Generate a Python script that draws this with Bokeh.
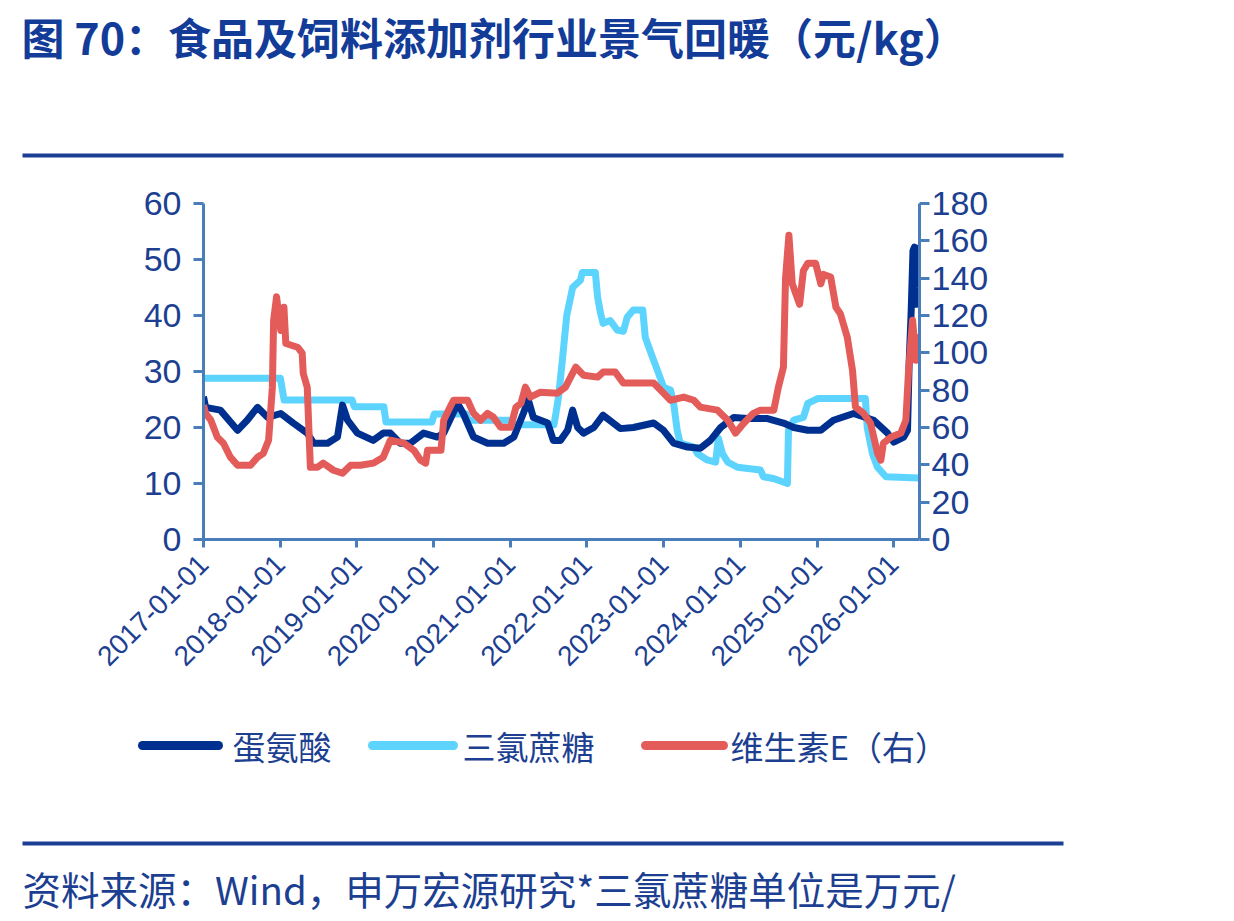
import pandas as pd
from math import pi
from bokeh.plotting import figure
from bokeh.models import Range1d, LinearAxis, FixedTicker, DatetimeTickFormatter
from bokeh.core.properties import value
from bokeh.embed import file_html
from bokeh.resources import INLINE

# ---------------- texts ----------------
TITLE = "图 70：食品及饲料添加剂行业景气回暖（元/kg）"
SOURCE = "资料来源：Wind，申万宏源研究*三氯蔗糖单位是万元/"
SERIES_NAMES = ["蛋氨酸", "三氯蔗糖", "维生素E（右）"]

LEFT_TICKS = [0, 10, 20, 30, 40, 50, 60]
RIGHT_TICKS = [0, 20, 40, 60, 80, 100, 120, 140, 160, 180]
YEAR_TICKS = ["2017-01-01", "2018-01-01", "2019-01-01", "2020-01-01", "2021-01-01",
              "2022-01-01", "2023-01-01", "2024-01-01", "2025-01-01", "2026-01-01"]
X_START, X_END = "2017-01-01", "2026-05-04"

# ---------------- data ----------------
# 蛋氨酸 (元/kg, left axis)
met_dates = ["2017-01-01", "2017-01-11", "2017-03-22", "2017-06-12", "2017-07-28", "2017-09-15",
             "2017-11-03", "2018-01-04", "2018-03-04", "2018-05-10", "2018-06-10", "2018-08-15",
             "2018-10-01", "2018-10-25", "2018-11-18", "2019-01-04", "2019-03-20", "2019-05-07",
             "2019-06-10", "2019-07-27", "2019-09-13", "2019-11-15", "2020-01-20", "2020-02-19",
             "2020-04-25", "2020-05-22", "2020-07-10", "2020-09-15", "2020-12-01", "2021-01-18",
             "2021-03-04", "2021-03-28", "2021-04-21", "2021-06-28", "2021-07-25", "2021-08-28",
             "2021-10-01", "2021-10-25", "2021-11-18", "2021-12-16", "2022-02-03", "2022-03-19",
             "2022-05-06", "2022-06-09", "2022-08-10", "2022-11-15", "2023-01-01", "2023-02-18",
             "2023-04-25", "2023-06-25", "2023-08-12", "2023-09-30", "2023-12-01", "2024-02-06",
             "2024-05-10", "2024-07-25", "2024-09-12", "2024-11-18", "2025-01-19", "2025-03-20",
             "2025-06-24", "2025-09-28", "2025-12-03", "2026-01-01", "2026-02-18", "2026-03-08",
             "2026-03-16", "2026-03-25", "2026-04-03", "2026-04-10", "2026-04-17", "2026-04-24",
             "2026-05-01"]
met_vals = [25.5, 23.6, 23.1, 19.5, 21.3, 23.6,
            21.8, 22.5, 20.8, 19.0, 17.2, 17.2,
            18.3, 24.0, 21.3, 19.0, 17.7, 19.0,
            19.0, 17.2, 17.2, 19.0, 18.3, 19.0,
            24.3, 22.5, 18.3, 17.2, 17.2, 18.3,
            22.5, 24.9, 21.8, 20.8, 17.7, 17.7,
            19.5, 23.1, 20.0, 19.0, 20.0, 22.2,
            20.8, 19.8, 20.0, 20.8, 19.5, 17.2,
            16.5, 16.3, 17.7, 20.0, 21.8, 21.6,
            21.6, 20.8, 20.0, 19.5, 19.5, 21.3,
            22.5, 21.3, 19.0, 17.4, 18.3, 19.5,
            32.0, 40.4, 51.6, 52.2, 42.0, 52.0,
            45.0]

# 三氯蔗糖 (万元/kg, left axis)
suc_dates = ["2017-01-01", "2018-01-02", "2018-01-20", "2018-12-10", "2018-12-20", "2019-05-10",
             "2019-05-20", "2019-12-25", "2020-01-05", "2020-06-05", "2020-06-15", "2021-01-01",
             "2021-01-10", "2021-07-28", "2021-08-04", "2021-08-19", "2021-09-06", "2021-09-27",
             "2021-10-25", "2021-12-01", "2021-12-10", "2022-02-10", "2022-02-21", "2022-03-07",
             "2022-03-19", "2022-04-22", "2022-05-25", "2022-06-24", "2022-07-12", "2022-08-10",
             "2022-09-24", "2022-10-06", "2022-11-09", "2022-12-03", "2023-01-01", "2023-02-03",
             "2023-02-18", "2023-03-07", "2023-03-21", "2023-05-25", "2023-06-12", "2023-07-28",
             "2023-09-06", "2023-09-19", "2023-10-09", "2023-11-03", "2023-12-19", "2024-04-06",
             "2024-04-21", "2024-06-07", "2024-08-13", "2024-08-18", "2024-09-12", "2024-10-28",
             "2024-11-18", "2025-01-06", "2025-08-19", "2025-08-28", "2025-09-22", "2025-10-16",
             "2025-11-25", "2026-05-01"]
suc_vals = [28.8, 28.8, 24.9, 24.9, 23.7, 23.7,
            21.0, 21.0, 22.4, 22.4, 21.3, 21.3,
            20.5, 20.5, 22.0, 25.5, 32.0, 40.0,
            45.0, 46.3, 47.7, 47.7, 43.3, 40.4,
            38.6, 39.1, 37.4, 37.2, 39.7, 41.0,
            41.0, 36.1, 32.6, 30.2, 27.2, 26.7,
            24.3, 19.5, 17.2, 16.5, 15.3, 14.2,
            13.8, 18.1, 15.3, 13.8, 12.9, 12.4,
            11.2, 10.9, 10.0, 19.5, 21.3, 21.8,
            24.3, 25.2, 25.2, 20.0, 15.3, 12.9,
            11.2, 11.0]

# 维生素E (元/kg, right axis)
vite_dates = ["2017-01-01", "2017-01-11", "2017-02-05", "2017-03-08", "2017-04-06", "2017-05-09",
              "2017-06-12", "2017-08-13", "2017-09-16", "2017-10-13", "2017-11-07", "2017-11-25",
              "2017-12-01", "2017-12-15", "2018-01-04", "2018-01-19", "2018-01-28", "2018-03-25",
              "2018-04-16", "2018-04-21", "2018-05-10", "2018-05-25", "2018-06-28", "2018-07-25",
              "2018-09-12", "2018-10-25", "2018-12-03", "2019-01-19", "2019-03-20", "2019-05-07",
              "2019-06-10", "2019-08-13", "2019-09-30", "2019-11-01", "2019-11-25", "2019-12-04",
              "2020-02-06", "2020-02-19", "2020-03-13", "2020-04-06", "2020-06-12", "2020-07-10",
              "2020-08-13", "2020-09-15", "2020-10-13", "2020-11-16", "2021-01-03", "2021-01-28",
              "2021-02-21", "2021-03-14", "2021-04-07", "2021-05-25", "2021-08-13", "2021-09-21",
              "2021-11-09", "2021-12-16", "2022-02-21", "2022-03-19", "2022-05-16", "2022-06-24",
              "2022-11-15", "2023-01-01", "2023-02-03", "2023-04-07", "2023-05-25", "2023-06-25",
              "2023-09-15", "2023-11-03", "2023-12-10", "2024-01-18", "2024-03-04", "2024-04-06",
              "2024-06-09", "2024-07-01", "2024-07-25", "2024-08-04", "2024-08-20", "2024-09-05",
              "2024-10-10", "2024-10-28", "2024-11-18", "2024-12-25", "2025-01-19", "2025-02-01",
              "2025-03-07", "2025-04-01", "2025-04-22", "2025-05-25", "2025-06-19", "2025-07-03",
              "2025-08-10", "2025-09-13", "2025-10-16", "2025-11-01", "2025-11-13", "2025-12-18",
              "2026-02-04", "2026-02-28", "2026-03-13", "2026-04-01", "2026-04-17", "2026-05-01"]
vite_vals = [72.0, 67.6, 63.9, 54.8, 51.6, 44.1,
             39.8, 39.8, 44.1, 46.2, 53.2, 81.6,
             117.5, 130.0, 112.0, 124.4, 105.0, 103.0,
             99.8, 89.0, 81.6, 38.7, 38.7, 40.9,
             37.1, 35.5, 39.8, 39.8, 40.9, 44.1,
             53.2, 51.6, 47.8, 42.5, 40.9, 47.8,
             47.8, 63.9, 69.3, 74.6, 74.6, 67.6,
             63.9, 67.6, 65.5, 60.1, 60.1, 70.9,
             73.0, 81.6, 76.3, 78.9, 78.4, 81.6,
             92.3, 88.0, 87.0, 89.7, 89.7, 83.8,
             83.8, 78.4, 74.6, 76.3, 74.6, 70.9,
             69.3, 63.9, 57.0, 62.3, 67.6, 69.3,
             69.3, 81.6, 92.3, 140.0, 163.0, 137.0,
             126.0, 144.0, 148.0, 148.0, 137.0, 142.0,
             140.6, 124.4, 121.0, 108.4, 90.5, 71.0,
             67.6, 62.3, 46.2, 42.5, 51.6, 54.8,
             57.0, 63.9, 90.7, 117.5, 96.0, 110.0]

# ---------------- styles ----------------
C_MET = "#00308F"
C_SUC = "#5DD4FE"
C_VITE = "#E45C5A"
C_AXIS = "#4A7EBB"
C_TEXT = "#1D3F91"
C_TITLE = "#123C98"
C_RULE = "#1A3F94"
CJK = "Noto Sans CJK SC"
LATIN = "Liberation Sans"

W = 1234
TOP_H, MAIN_H, BOT_H = 175, 525, 221


def bare(h):
    f = figure(width=W, height=h, x_range=Range1d(0, W), y_range=Range1d(h, 0),
               x_axis_location=None, y_axis_location=None, toolbar_location=None,
               output_backend="svg", min_border=0)
    f.outline_line_color = None
    f.grid.visible = False
    f.background_fill_color = "white"
    f.border_fill_color = "white"
    return f


# ---------- top: title + rule ----------
top = bare(TOP_H)
top.text(x=[21], y=[35], text=[TITLE], text_font=value(CJK), text_font_style="bold",
         text_font_size="43px", text_color=C_TITLE, text_baseline="middle", text_align="left")
top.line(x=[22, 1063], y=[155, 155], line_width=4, line_color=C_RULE)

# ---------- main chart ----------
p = figure(width=W, height=MAIN_H, x_axis_type="datetime",
           x_range=Range1d(pd.Timestamp(X_START), pd.Timestamp(X_END)),
           y_range=Range1d(0, 60), toolbar_location=None, output_backend="svg",
           min_border_left=203, min_border_right=315, min_border_top=28, min_border_bottom=161)
p.extra_y_ranges = {"right": Range1d(0, 180)}
p.outline_line_color = None
p.xgrid.visible = False
p.ygrid.visible = False

suc_x = pd.to_datetime(suc_dates)
met_x = pd.to_datetime(met_dates)
vite_x = pd.to_datetime(vite_dates)

p.line(suc_x, suc_vals, line_color=C_SUC, line_width=7, line_join="round")
p.line(met_x, met_vals, line_color=C_MET, line_width=7, line_join="round")
p.line(vite_x, vite_vals, line_color=C_VITE, line_width=7, line_join="round",
       y_range_name="right")

right = LinearAxis(y_range_name="right")
p.add_layout(right, "right")

p.xaxis.ticker = FixedTicker(ticks=[pd.Timestamp(d).value // 10**6 for d in YEAR_TICKS])
fmt = "%Y-%m-%d"
p.xaxis.formatter = DatetimeTickFormatter(years=fmt, months=fmt, days=fmt, hours=fmt,
                                          minutes=fmt, seconds=fmt, milliseconds=fmt,
                                          microseconds=fmt, minsec=fmt, hourmin=fmt)
p.xaxis.major_label_orientation = pi / 4
p.yaxis[0].ticker = FixedTicker(ticks=LEFT_TICKS)
right.ticker = FixedTicker(ticks=RIGHT_TICKS)

for ax in p.axis:
    ax.axis_line_color = C_AXIS
    ax.axis_line_width = 3
    ax.major_tick_line_color = C_AXIS
    ax.major_tick_line_width = 3
    ax.major_tick_in = 0
    ax.minor_tick_in = 0
    ax.minor_tick_out = 0
    ax.major_label_text_color = C_TEXT
    ax.major_label_text_font = LATIN

for ax in p.yaxis:
    ax.major_tick_out = 10
    ax.major_label_text_font_size = "34px"
p.yaxis[0].major_label_standoff = 12
right.major_label_standoff = 2
p.xaxis.major_tick_out = 8
p.xaxis.major_label_text_font_size = "28px"
p.xaxis.major_label_standoff = 12

# ---------- bottom: legend, rule, source ----------
bot = bare(BOT_H)
leg_colors = [C_MET, C_SUC, C_VITE]
leg_x0 = [142, 372, 645]
leg_x1 = [218, 453, 723]
leg_tx = [232, 462, 730]
bot.segment(x0=leg_x0, y0=[45] * 3, x1=leg_x1, y1=[45] * 3, line_color=leg_colors,
            line_width=9, line_cap="round")
bot.text(x=leg_tx, y=[45] * 3, text=SERIES_NAMES, text_font=value(CJK),
         text_font_size="33px", text_color=C_TEXT, text_baseline="middle", text_align="left")
bot.line(x=[22, 1063], y=[143, 143], line_width=4, line_color=C_RULE)
bot.text(x=[22], y=[187], text=[SOURCE], text_font=value(CJK), text_font_size="38.5px",
         text_color=C_TEXT, text_baseline="middle", text_align="left")

# three independent roots, stacked top to bottom (no frame alignment between them)
open("out.html", "w").write(file_html([top, p, bot], INLINE))
